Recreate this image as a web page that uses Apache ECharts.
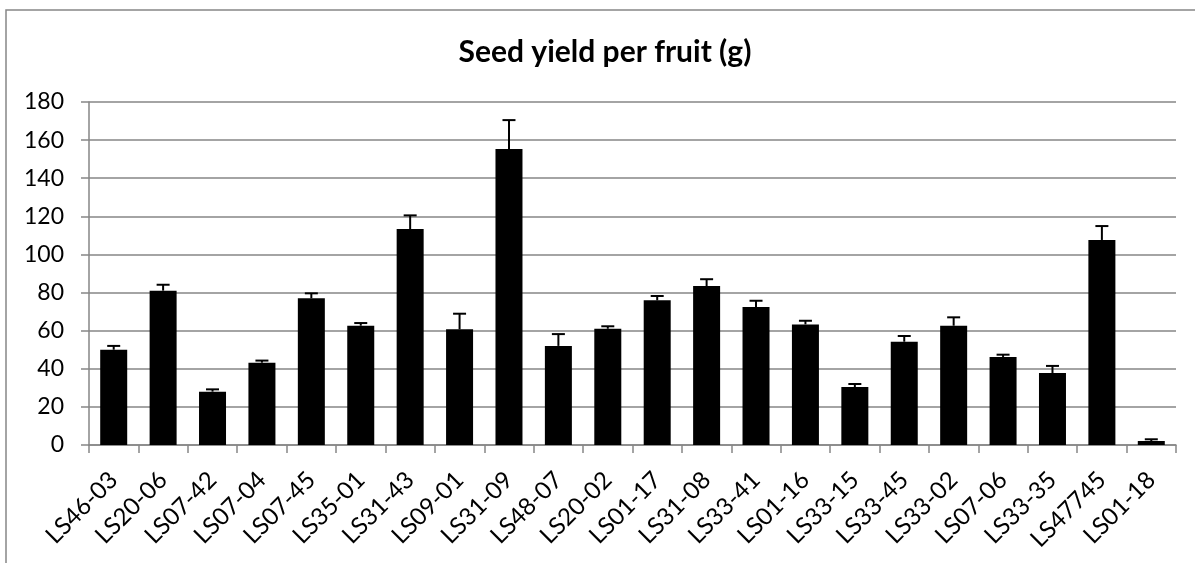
<!DOCTYPE html>
<html>
<head>
    <meta charset="UTF-8">
    <title>Seed yield per fruit</title>
    <script src="https://cdn.jsdelivr.net/npm/echarts@6/dist/echarts.min.js"></script>
    <style>
        html, body { margin: 0; padding: 0; background: #fff; }
        #chart { width: 1195px; height: 563px; }
    </style>
</head>
<body>
    <div id="chart"></div>
    <script>
        // lines (categories)
        const categories = ['LS46-03', 'LS20-06', 'LS07-42', 'LS07-04', 'LS07-45', 'LS35-01',
            'LS31-43', 'LS09-01', 'LS31-09', 'LS48-07', 'LS20-02', 'LS01-17', 'LS31-08',
            'LS33-41', 'LS01-16', 'LS33-15', 'LS33-45', 'LS33-02', 'LS07-06', 'LS33-35',
            'LS47745', 'LS01-18'];
        // mean seed yield per fruit (g)
        const means = [50, 81, 28, 43.2, 77, 62.6, 113.3, 60.7, 155.3, 52, 61, 75.9, 83.4,
            72.4, 63.3, 30.4, 54.2, 62.6, 46.2, 37.8, 107.6, 2.1];
        // upper error (g)
        const errs = [2, 3.1, 1.2, 1.1, 2.6, 1.4, 7.2, 8.2, 15.2, 6.2, 1.3, 2.3, 3.6,
            3.3, 1.9, 1.6, 3, 4.4, 1.2, 3.7, 7.3, 0.9];
        const yTicks = { min: 0, max: 180, interval: 20 };

        const gray = '#868686';
        const font = 'Lato';

        const chart = echarts.init(document.getElementById('chart'));

        const errData = categories.map((c, i) => [i, means[i], errs[i]]);

        const option = {
            animation: false,
            graphic: [
                {
                    type: 'rect',
                    shape: { x: 6, y: 10, width: 1400, height: 800 },
                    style: { fill: null, stroke: gray, lineWidth: 1.5 },
                    silent: true
                },
                {
                    type: 'text',
                    x: 605,
                    y: 52,
                    style: {
                        text: 'Seed yield per fruit (g)',
                        fontFamily: font,
                        fontWeight: 'bold',
                        fontSize: 30,
                        fill: '#000',
                        textAlign: 'center',
                        textVerticalAlign: 'middle'
                    }
                }
            ],
            grid: { left: 89, right: 19, top: 102, bottom: 118 },
            xAxis: {
                type: 'category',
                data: categories,
                axisLine: { lineStyle: { color: gray, width: 1.5 } },
                axisTick: { show: true, length: 8, lineStyle: { color: gray, width: 1.5 } },
                axisLabel: {
                    interval: 0,
                    rotate: 45,
                    margin: 31,
                    color: '#000',
                    fontFamily: font,
                    fontSize: 24
                }
            },
            yAxis: {
                type: 'value',
                min: yTicks.min,
                max: yTicks.max,
                interval: yTicks.interval,
                axisLine: { show: true, lineStyle: { color: gray, width: 1.5 } },
                axisTick: { show: true, length: 8, lineStyle: { color: gray, width: 1.5 } },
                splitLine: { lineStyle: { color: gray, width: 1.5 } },
                axisLabel: {
                    margin: 25,
                    color: '#000',
                    fontFamily: font,
                    fontSize: 23
                }
            },
            series: [
                {
                    type: 'bar',
                    data: means,
                    barWidth: 27,
                    itemStyle: { color: '#000' },
                    z: 2
                },
                {
                    type: 'custom',
                    data: errData,
                    z: 3,
                    renderItem: function (params, api) {
                        const idx = api.value(0);
                        const base = api.coord([idx, api.value(1)]);
                        const top = api.coord([idx, api.value(1) + api.value(2)]);
                        const half = 6.5;
                        const style = { stroke: '#000', lineWidth: 2 };
                        return {
                            type: 'group',
                            children: [
                                { type: 'line', shape: { x1: base[0], y1: base[1], x2: top[0], y2: top[1] }, style: style },
                                { type: 'line', shape: { x1: top[0] - half, y1: top[1], x2: top[0] + half, y2: top[1] }, style: style }
                            ]
                        };
                    }
                }
            ]
        };

        chart.setOption(option);
        window.addEventListener('resize', () => chart.resize());
    </script>
</body>
</html>
